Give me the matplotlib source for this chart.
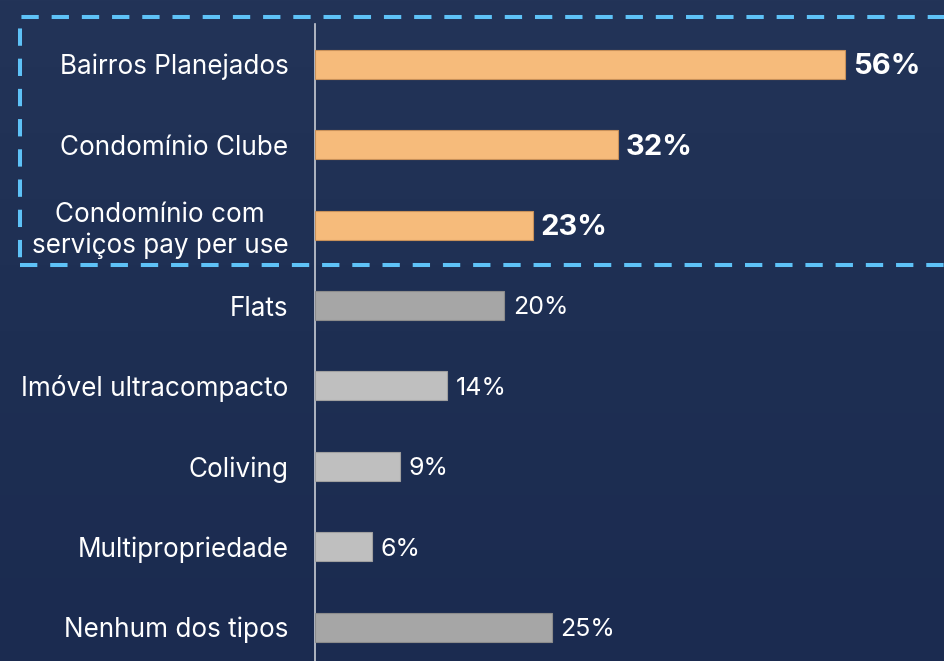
import numpy as np
import matplotlib
matplotlib.use("Agg")
import matplotlib.pyplot as plt
from matplotlib.patches import Rectangle
from matplotlib.colors import LinearSegmentedColormap

# dados
categorias = ["Bairros Planejados", "Condomínio Clube", "Condomínio com\nserviços pay per use",
              "Flats", "Imóvel ultracompacto", "Coliving", "Multipropriedade", "Nenhum dos tipos"]
valores = [56, 32, 23, 20, 14, 9, 6, 25]
destaque = [True, True, True, False, False, False, False, False]
cores = ["#F6BB7B", "#F6BB7B", "#F6BB7B", "#A6A6A6", "#BFBFBF", "#BFBFBF", "#BFBFBF", "#A6A6A6"]
bordas = ["#C8915A", "#C8915A", "#C8915A", "#8C8C8C", "#A0A0A0", "#A0A0A0", "#A0A0A0", "#8C8C8C"]

plt.rcParams["font.family"] = ["Inter", "DejaVu Sans"]

W, H = 944, 661
fig = plt.figure(figsize=(W / 100, H / 100), dpi=100)

# fundo azul escuro com leve degradê
bg = fig.add_axes([0, 0, 1, 1], zorder=0)
grad = np.linspace(0, 1, 256).reshape(-1, 1)
cmap = LinearSegmentedColormap.from_list("fundo", ["#233458", "#1E2F53", "#1B2B50"])
bg.imshow(grad, aspect="auto", cmap=cmap, extent=[0, 1, 0, 1])
bg.axis("off")

# eixo principal
x0 = 315 / W
topo = 24
ax = fig.add_axes([x0, 0, 1 - x0, (H - topo) / H], zorder=2)
ax.patch.set_alpha(0)

y = np.arange(len(categorias))
ax.barh(y, valores, height=0.36, color=cores, edgecolor=bordas, linewidth=0.8, zorder=3)

ax.set_xlim(0, (W - 315) / 9.464)
ax.set_ylim(7.42, -0.5)

ax.set_yticks(y)
ax.set_yticklabels(categorias, fontsize=18.8, color="white", multialignment="center",
                   linespacing=1.25)
ax.tick_params(axis="y", length=0, pad=19)
ax.set_xticks([])

for s in ["top", "right", "bottom"]:
    ax.spines[s].set_visible(False)
ax.spines["left"].set_color("#C8CCD4")
ax.spines["left"].set_linewidth(1.2)

for i, v in enumerate(valores):
    if destaque[i]:
        ax.text(v + 0.85, i + 0.03, f"{v}%", va="center", ha="left", fontsize=21,
                fontweight="bold", color="white")
    else:
        ax.text(v + 0.9, i + 0.03, f"{v}%", va="center", ha="left", fontsize=18,
                color="white")

# retângulo tracejado em volta dos três primeiros
ret = Rectangle((20 / W, 1 - 265 / H), (W + 20) / W, (265 - 17) / H, transform=fig.transFigure,
                fill=False, edgecolor="#5EC2F7", linewidth=2.9, linestyle=(0, (4.3, 3.2)),
                capstyle="butt", zorder=5, clip_on=False)
fig.patches.append(ret)

plt.savefig("out.png", dpi=100)
plt.close()
